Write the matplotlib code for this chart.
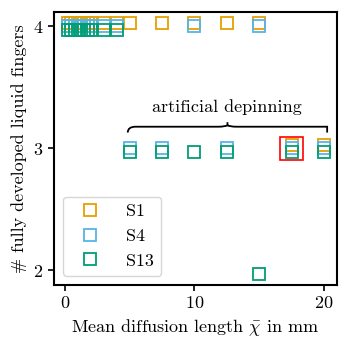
import numpy as np
import matplotlib
matplotlib.use("Agg")
import matplotlib.pyplot as plt
from matplotlib.path import Path
from matplotlib.patches import PathPatch, Rectangle

plt.rcParams['font.family'] = ['cmr10', 'DejaVu Serif']
plt.rcParams['mathtext.fontset'] = 'cm'
plt.rcParams['axes.unicode_minus'] = False
plt.rcParams['axes.formatter.use_mathtext'] = True

# ---- data ----
cluster = [0.25, 0.5, 0.75, 1.0, 1.25, 1.5, 1.75, 2.0]
s1_x = cluster + [3, 4, 5, 7.5, 10, 12.5, 15, 17.5, 20]
s1_y = [4] * len(cluster) + [4, 4, 4, 4, 4, 4, 4, 3, 3]
s4_x = cluster + [3, 4, 10, 15, 5, 7.5, 12.5, 17.5, 20]
s4_y = [4] * len(cluster) + [4, 4, 4, 4, 3, 3, 3, 3, 3]
s13_x = cluster + [3, 4, 5, 7.5, 10, 12.5, 17.5, 20, 15]
s13_y = [4] * len(cluster) + [4, 4, 3, 3, 3, 3, 3, 3, 2]
labels = ["S1", "S4", "S13"]
colors = ["#E69F00", "#56B4E9", "#009E73"]
offsets = [0.03, 0.0, -0.03]

FS = 13

fig = plt.figure(figsize=(3.48, 3.48), dpi=100)
ax = fig.add_axes([0.155, 0.181, 0.813, 0.785])

for xs, ys, lab, c, off in zip([s1_x, s4_x, s13_x], [s1_y, s4_y, s13_y], labels, colors, offsets):
    ax.plot(xs, np.array(ys) + off, ls='none', marker='s', ms=8.5, mfc='none',
            mec=c, mew=1.3, label=lab)

# highlight rectangle
ax.add_patch(Rectangle((16.6, 2.905), 1.8, 0.19, fill=False, ec='red', lw=1.2, zorder=5))

# curly brace
x0, x1, xm = 4.85, 20.25, 12.55
yb, yh, yt = 3.13, 3.178, 3.215
d = 0.6
verts = [(x0, yb), (x0, yh), (x0 + d, yh), (x0 + 0.7, yh),
         (xm - 0.7, yh), (xm - d * 0.3, yh), (xm, yt - 0.025),
         (xm, yt),
         (xm, yt - 0.025), (xm + d * 0.3, yh), (xm + 0.7, yh),
         (x1 - 0.7, yh), (x1 - d, yh), (x1, yh), (x1, yb)]
codes = [Path.MOVETO, Path.CURVE3, Path.CURVE3, Path.LINETO,
         Path.LINETO, Path.CURVE3, Path.CURVE3,
         Path.LINETO,
         Path.MOVETO, Path.CURVE3, Path.CURVE3,
         Path.LINETO, Path.CURVE3, Path.CURVE3, Path.LINETO]
ax.add_patch(PathPatch(Path(verts, codes), fill=False, lw=1.3, ec='black'))
ax.text(12.5, 3.335, "artificial depinning", ha='center', va='center', fontsize=FS)

ax.set_xlim(-0.85, 21.0)
ax.set_ylim(1.88, 4.12)
ax.set_xticks([0, 10, 20])
ax.set_yticks([2, 3, 4])
ax.tick_params(labelsize=FS, width=1.2, length=4)
for s in ax.spines.values():
    s.set_linewidth(1.5)
ax.set_xlabel(r"Mean diffusion length $\bar{\chi}$ in mm", fontsize=FS)
ax.set_ylabel("# fully developed liquid fingers", fontsize=FS)

ax.legend(loc='lower left', fontsize=FS, handlelength=2.2, handletextpad=0.9,
          labelspacing=0.5, borderaxespad=0.5)

fig.savefig("out.png", dpi=100)
